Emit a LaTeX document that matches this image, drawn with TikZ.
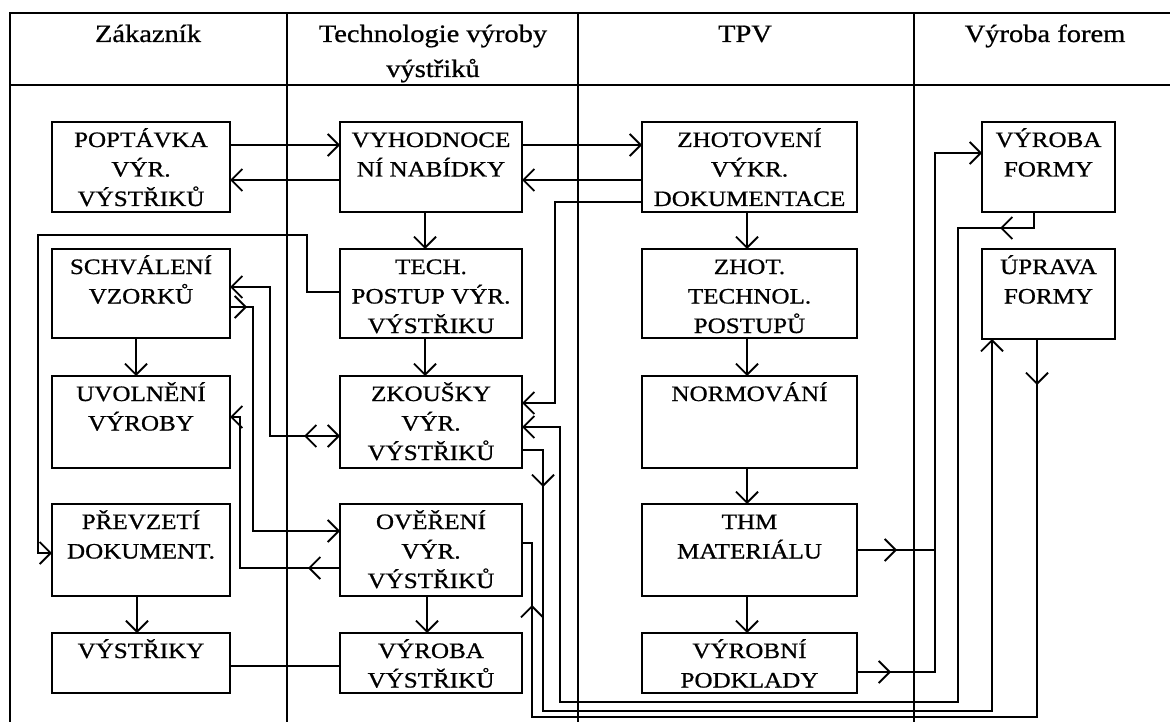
\documentclass[tikz,border=0pt]{standalone}
\usepackage{fontspec}
\setmainfont{Liberation Serif}[FakeStretch=1.14, FakeBold=0.8]
\usetikzlibrary{arrows.meta,decorations.markings}
\newcommand{\bxt}[3]{\parbox[c][#2][t]{#1}{\centering\fontsize{22pt}{29.5pt}\selectfont\rule{0pt}{25pt}#3\par}}
\tikzset{
  barbtip/.tip={Straight Barb[length=11pt,width=22pt]},
  frame/.style={line width=2pt},
  box/.style={draw, line width=1.8pt, anchor=north west, inner sep=0pt, outer sep=0pt},
  head/.style={anchor=base, inner sep=0pt, font=\fontsize{25pt}{30pt}\selectfont},
  conn/.style={line width=1.8pt},
  arr/.style={conn, -{barbtip}},
  midarr/.style={postaction={decorate}, decoration={markings, mark=at position #1 with {\arrow{barbtip}}}},
  midarrtwo/.style 2 args={postaction={decorate}, decoration={markings, mark=at position #1 with {\arrow{barbtip}}, mark=at position #2 with {\arrow{barbtip}}}}
}
\begin{document}
\begin{tikzpicture}[x=1pt,y=-1pt]
\useasboundingbox (0,0) rectangle (1170,722);
\fill[white] (0,0) rectangle (1170,722);
% frame
\draw[frame] (1170,13) -- (10,13) -- (10,722);
\draw[frame] (10,85) -- (1170,85);
\foreach \x in {287,578,914} \draw[frame] (\x,13) -- (\x,722);
% headers
\node[head] (hz) at (148,42) {Zákazník};
\node[head] (ht1) at (433,42) {Technologie výroby};
\node[head] (ht2) at (433,77) {výstřiků};
\node[head] (htpv) at (745,42) {TPV};
\node[head] (hvf) at (1045,42) {Výroba forem};
% column 1
\node[box] (pop) at (52,122) {\bxt{178pt}{90pt}{POPTÁVKA\\VÝR.\\VÝSTŘIKŮ}};
\node[box] (schv) at (52,249) {\bxt{178pt}{89pt}{SCHVÁLENÍ\\VZORKŮ}};
\node[box] (uvol) at (52,376) {\bxt{178pt}{92pt}{UVOLNĚNÍ\\VÝROBY}};
\node[box] (prev) at (52,504) {\bxt{178pt}{92pt}{PŘEVZETÍ\\DOKUMENT.}};
\node[box] (vys) at (52,633) {\bxt{178pt}{60pt}{VÝSTŘIKY}};
% column 2
\node[box] (vyh) at (340,122) {\bxt{182pt}{90pt}{VYHODNOCE\\NÍ NABÍDKY}};
\node[box] (tech) at (340,249) {\bxt{182pt}{89pt}{TECH.\\POSTUP VÝR.\\VÝSTŘIKU}};
\node[box] (zk) at (340,376) {\bxt{182pt}{92pt}{ZKOUŠKY\\VÝR.\\VÝSTŘIKŮ}};
\node[box] (over) at (340,504) {\bxt{182pt}{92pt}{OVĚŘENÍ\\VÝR.\\VÝSTŘIKŮ}};
\node[box] (vyrv) at (340,633) {\bxt{182pt}{60pt}{VÝROBA\\VÝSTŘIKŮ}};
% column 3
\node[box] (zhot) at (642,122) {\bxt{215pt}{90pt}{ZHOTOVENÍ\\VÝKR.\\DOKUMENTACE}};
\node[box] (zhtp) at (642,249) {\bxt{215pt}{89pt}{ZHOT.\\TECHNOL.\\POSTUPŮ}};
\node[box] (norm) at (642,376) {\bxt{215pt}{92pt}{NORMOVÁNÍ}};
\node[box] (thm) at (642,504) {\bxt{215pt}{92pt}{THM\\MATERIÁLU}};
\node[box] (vpod) at (642,633) {\bxt{215pt}{60pt}{VÝROBNÍ\\PODKLADY}};
% column 4
\node[box] (vf) at (982,122) {\bxt{133pt}{90pt}{VÝROBA\\FORMY}};
\node[box] (upr) at (982,249) {\bxt{133pt}{90pt}{ÚPRAVA\\FORMY}};
% horizontal links row 1
\draw[arr] (pop.east |- 0,145) -- (vyh.west |- 0,145);
\draw[arr] (vyh.west |- 0,180) -- (pop.east |- 0,180);
\draw[arr] (vyh.east |- 0,145) -- (zhot.west |- 0,145);
\draw[arr] (zhot.west |- 0,180) -- (vyh.east |- 0,180);
% vertical flows
\draw[arr] (vyh.south -| 425,0) -- (tech.north -| 425,0);
\draw[arr] (tech.south -| 425,0) -- (zk.north -| 425,0);
\draw[arr] (over.south -| 427,0) -- (vyrv.north -| 427,0);
\draw[arr] (schv.south -| 136,0) -- (uvol.north -| 136,0);
\draw[arr] (prev.south -| 137,0) -- (vys.north -| 137,0);
\draw[arr] (zhot.south -| 747,0) -- (zhtp.north -| 747,0);
\draw[arr] (zhtp.south -| 747,0) -- (norm.north -| 747,0);
\draw[arr] (norm.south -| 747,0) -- (thm.north -| 747,0);
\draw[arr] (thm.south -| 747,0) -- (vpod.north -| 747,0);
% TPV -> zkousky
\draw[arr] (zhot.west |- 0,202) -- (555,202) -- (555,403) -- (zk.east |- 0,403);
% vyroba formy -> zkousky
\draw[arr, midarr=50pt] (vf.south -| 1034,0) -- (1034,228) -- (958,228) -- (958,702) -- (560,702) -- (560,427) -- (zk.east |- 0,427);
% zkousky -> uprava formy
\draw[arr, midarr=58pt] (zk.east |- 0,450) -- (543,450) -- (543,711) -- (992,711) -- (upr.south -| 992,0);
% uprava formy -> overeni
\draw[conn, midarrtwo={46pt}{995pt}] (upr.south -| 1037,0) -- (1037,717) -- (532,717) -- (532,543) -- (over.east |- 0,543);
% THM, vyrobni podklady -> vyroba formy
\draw[arr, midarr=40pt] (thm.east |- 0,550) -- (935,550) -- (935,153) -- (vf.west |- 0,153);
\draw[conn, midarr=34pt] (vpod.east |- 0,672) -- (935,672) -- (935,550);
% tech postup -> prevzeti
\draw[arr] (tech.west |- 0,292) -- (307,292) -- (307,235) -- (38,235) -- (38,553) -- (prev.west |- 0,553);
% zkousky <-> schvaleni
\draw[conn, {barbtip}-{barbtip}, midarr=36pt] (zk.west |- 0,436) -- (270,436) -- (270,287) -- (schv.east |- 0,287);
% schvaleni -> overeni
\draw[arr, midarr=17pt] (schv.east |- 0,307) -- (253,307) -- (253,531) -- (over.west |- 0,531);
% overeni -> uvolneni
\draw[arr, midarr=32pt] (over.west |- 0,568) -- (240,568) -- (240,417) -- (uvol.east |- 0,417);
% vystriky -- vyroba vystriku
\draw[conn] (vys.east |- 0,666) -- (vyrv.west |- 0,666);
\end{tikzpicture}
\end{document}
